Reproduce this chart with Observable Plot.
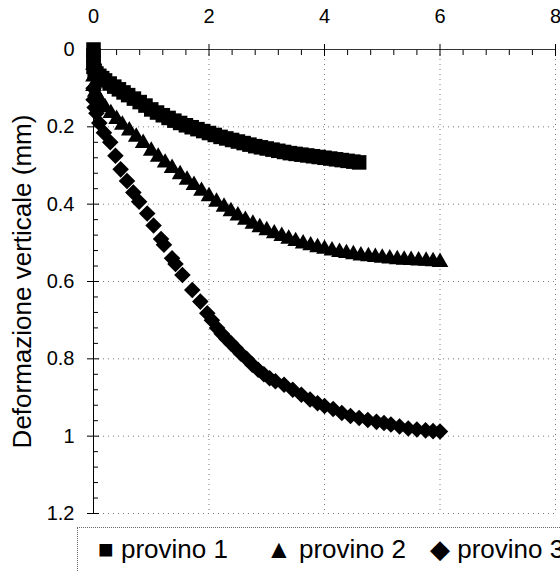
<!DOCTYPE html>
<html><head><meta charset="utf-8">
<script src="https://cdn.jsdelivr.net/npm/d3@7"></script>
<script src="https://cdn.jsdelivr.net/npm/@observablehq/plot@0.6"></script>
<style>
html,body{margin:0;padding:0;background:#fff;width:560px;height:571px;overflow:hidden;}
#wrap{position:relative;width:560px;height:571px;overflow:hidden;font-family:"Liberation Sans",Arial,sans-serif;}
#legend{position:absolute;left:77px;top:527px;width:520px;height:80px;border:1px dotted #666;border-right:none;}
.lg{position:absolute;top:6px;font-size:26px;line-height:30px;color:#000;white-space:nowrap;}
</style></head>
<body><div id="wrap"><div id="chart"></div><div id="legend"></div></div>
<script>
const xTicks = [0, 2, 4, 6, 8];
const yTicks = [0, 0.2, 0.4, 0.6, 0.8, 1, 1.2];
const seriesNames = ["provino 1", "provino 2", "provino 3"];
const yTitle = "Deformazione verticale (mm)";

// provino 1 (squares)
const p1x = [0,0,0,0,0.02,0.05,0.1,0.15,0.2,0.28,0.36,0.44,0.52,0.6,0.7,0.8,0.9,1.0,1.1,1.2,1.3,1.4,1.5,1.6,1.7,1.8,1.9,2.0,2.1,2.2,2.3,2.4,2.5,2.6,2.7,2.8,2.9,3.0,3.1,3.2,3.3,3.4,3.5,3.6,3.7,3.8,3.9,4.0,4.1,4.2,4.3,4.4,4.5,4.6];
const p1y = [0,0.015,0.03,0.045,0.055,0.062,0.068,0.074,0.08,0.088,0.096,0.103,0.111,0.118,0.127,0.136,0.145,0.155,0.163,0.17,0.177,0.184,0.19,0.196,0.201,0.206,0.211,0.216,0.221,0.226,0.23,0.234,0.238,0.242,0.246,0.25,0.253,0.256,0.259,0.262,0.265,0.268,0.27,0.272,0.274,0.276,0.278,0.28,0.282,0.284,0.286,0.288,0.29,0.292];

// provino 2 (triangles)
const p2x = [0,0,0,0.03,0.07,0.12,0.2,0.3,0.4,0.5,0.62,0.74,0.86,1.0,1.12,1.24,1.36,1.5,1.62,1.74,1.87,2.0,2.13,2.26,2.38,2.5,2.63,2.76,2.88,3.0,3.13,3.26,3.38,3.5,3.63,3.76,3.88,4.0,4.13,4.26,4.38,4.5,4.63,4.76,4.88,5.0,5.13,5.26,5.38,5.5,5.63,5.76,5.88,6.0];
const p2y = [0.04,0.07,0.095,0.11,0.12,0.135,0.15,0.165,0.18,0.195,0.21,0.226,0.242,0.262,0.278,0.293,0.307,0.323,0.337,0.351,0.366,0.38,0.394,0.407,0.419,0.43,0.441,0.451,0.46,0.468,0.476,0.483,0.49,0.496,0.502,0.507,0.512,0.516,0.52,0.524,0.527,0.53,0.533,0.535,0.537,0.539,0.541,0.543,0.544,0.545,0.546,0.547,0.548,0.55];

// provino 3 (diamonds)
const p3x = [0,0,0.02,0.05,0.1,0.18,0.29,0.38,0.47,0.58,0.69,0.79,0.93,1.04,1.17,1.22,1.36,1.42,1.54,1.71,1.85,1.97,2.05,2.14,2.22,2.3,2.38,2.46,2.55,2.65,2.75,2.85,2.95,3.05,3.15,3.3,3.45,3.6,3.75,3.88,4.0,4.15,4.3,4.45,4.6,4.75,4.9,5.03,5.15,5.3,5.45,5.6,5.75,5.88,6.0];
const p3y = [0.1,0.13,0.15,0.165,0.19,0.215,0.24,0.275,0.31,0.34,0.37,0.394,0.424,0.455,0.49,0.505,0.54,0.555,0.583,0.622,0.652,0.682,0.7,0.72,0.735,0.748,0.76,0.772,0.786,0.8,0.815,0.828,0.84,0.85,0.858,0.867,0.88,0.893,0.905,0.915,0.922,0.93,0.94,0.948,0.953,0.958,0.963,0.966,0.97,0.975,0.98,0.983,0.985,0.987,0.988];

const xMinor = d3.range(0, 8.001, 0.4).filter(v => Math.abs(v / 2 - Math.round(v / 2)) > 1e-6);
const yMinor = d3.range(0, 1.2001, 0.04).filter(v => Math.abs(v / 0.2 - Math.round(v / 0.2)) > 1e-6);

const toRows = (xs, ys, s) => xs.map((x, i) => ({s, x, y: ys[i]}));
const d1 = toRows(p1x, p1y, seriesNames[0]);
const d2 = toRows(p2x, p2y, seriesNames[1]);
const d3s = toRows(p3x, p3y, seriesNames[2]);

const grid = {stroke: "#777", strokeOpacity: 1, strokeDasharray: "1,4", strokeWidth: 1};

const chart = Plot.plot({
  width: 560, height: 520,
  marginLeft: 93, marginRight: 5, marginTop: 49, marginBottom: 7,
  style: {fontFamily: "'Liberation Sans', Arial, sans-serif", fontSize: "20px", color: "#000", background: "#fff", overflow: "visible"},
  x: {domain: [0, 8]},
  y: {domain: [0, 1.2], reverse: true},
  marks: [
    Plot.gridX(xTicks.slice(1), grid),
    Plot.gridY(yTicks.slice(1), grid),
    Plot.ruleY([0], {stroke: "#333", strokeWidth: 1}),
    Plot.ruleX([0], {stroke: "#000", strokeWidth: 1}),
    // major ticks crossing the axes
    Plot.axisX(xTicks, {anchor: "top", tickSize: 12, dy: 6, fill: "none", label: null}),
    Plot.axisY(yTicks, {anchor: "left", tickSize: 12, dx: 6, fill: "none", label: null}),
    // minor ticks inside
    Plot.axisX(xMinor, {anchor: "top", tickSize: 5, dy: 5, fill: "none", label: null}),
    Plot.axisY(yMinor, {anchor: "left", tickSize: 5, dx: 5, fill: "none", label: null}),
    // tick labels
    Plot.axisX(xTicks, {anchor: "top", tickSize: 0, tickPadding: 27, stroke: "none", label: null, fontSize: 20}),
    Plot.axisY(yTicks, {anchor: "left", tickSize: 0, tickPadding: 19, stroke: "none", label: null, fontSize: 20, tickFormat: d => String(d)}),
    Plot.text([yTitle], {frameAnchor: "left", textAnchor: "middle", rotate: -90, dx: -71, text: d => d, fontSize: 26, fill: "#000"}),
    Plot.dot(d3s, {x: "x", y: "y", symbol: "square", rotate: 45, r: 6.6, fill: "#000", stroke: "none"}),
    Plot.dot(d2, {x: "x", y: "y", symbol: "triangle", r: 6.2, fill: "#000", stroke: "none"}),
    Plot.dot(d1, {x: "x", y: "y", symbol: "square", r: 8.2, fill: "#000", stroke: "none"})
  ]
});
document.getElementById("chart").appendChild(chart);

const glyphs = ["\u25A0", "\u25B2", "\u25C6"];
const lefts = [20, 188, 352];
const legend = document.getElementById("legend");
seriesNames.forEach((name, i) => {
  const span = document.createElement("span");
  span.className = "lg";
  span.style.left = lefts[i] + "px";
  span.textContent = glyphs[i] + " " + name;
  legend.appendChild(span);
});
</script></body></html>
